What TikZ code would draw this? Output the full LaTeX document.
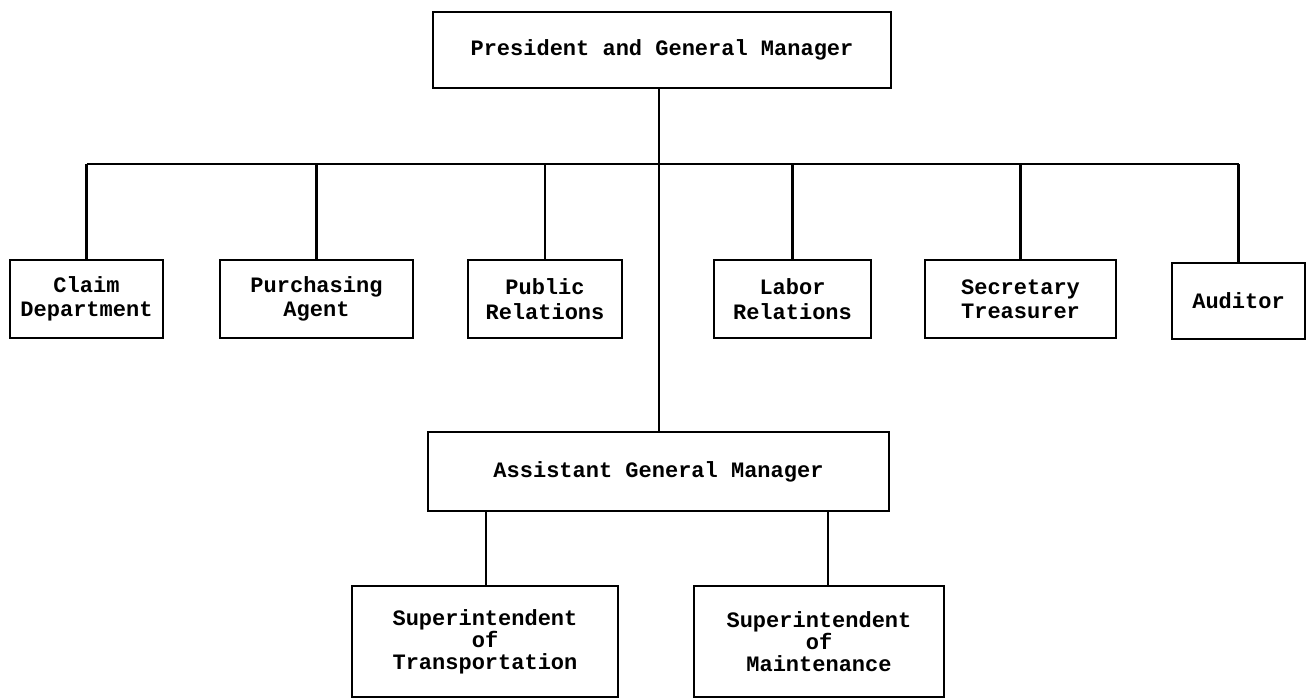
\documentclass[tikz,border=0pt]{standalone}
\usepackage{fontspec}
\setmonofont{Liberation Mono}
\begin{document}
\begin{tikzpicture}[x=1pt,y=-1pt,
  orgbox/.style={draw, line width=2.8pt, rectangle, inner sep=0pt,
    align=center, font=\ttfamily\bfseries\fontsize{22}{24.5}\selectfont},
  tallbox/.style={orgbox, font=\ttfamily\bfseries\fontsize{22}{22}\selectfont},
  link/.style={line width=2.8pt}]
\useasboundingbox (0,0) rectangle (1309,698);

% head office
\node[orgbox, minimum width=458, minimum height=76] (pres) at (662,50)
  {President and General Manager};

% staff departments
\node[orgbox, minimum width=153, minimum height=78] (claim) at (86.5,299) {Claim\\Department};
\node[orgbox, minimum width=193, minimum height=78] (purch) at (316.5,299) {Purchasing\\Agent};
\node[orgbox, minimum width=154, minimum height=78] (pub) at (545,299) {Public\\Relations};
\node[orgbox, minimum width=157, minimum height=78] (labor) at (792.5,299) {Labor\\Relations};
\node[orgbox, minimum width=191, minimum height=78] (sec) at (1020.5,299) {Secretary\\Treasurer};
\node[orgbox, minimum width=133, minimum height=76] (aud) at (1238.5,301) {Auditor};

% line organisation
\node[orgbox, minimum width=461, minimum height=79] (asst) at (658.5,471.5)
  {Assistant General Manager};
\node[tallbox, minimum width=266, minimum height=111] (trans) at (485,641.5)
  {Superintendent\\of\\Transportation};
\node[tallbox, minimum width=250, minimum height=111] (maint) at (819,641.5)
  {Superintendent\\of\\Maintenance};

% bus and junctions
\coordinate (bus) at (659,164);
\draw[link] (claim.north |- bus) -- (aud.north |- bus);
\draw[link] (pres.south -| bus) -- (asst.north -| bus);
\foreach \n in {claim,purch,pub,labor,sec,aud}
  \draw[link] (\n.north) -- (\n.north |- bus);

\coordinate (tstem) at (486,0);
\coordinate (mstem) at (828,0);
\draw[link] (asst.south -| tstem) -- (trans.north -| tstem);
\draw[link] (asst.south -| mstem) -- (maint.north -| mstem);
\end{tikzpicture}
\end{document}
